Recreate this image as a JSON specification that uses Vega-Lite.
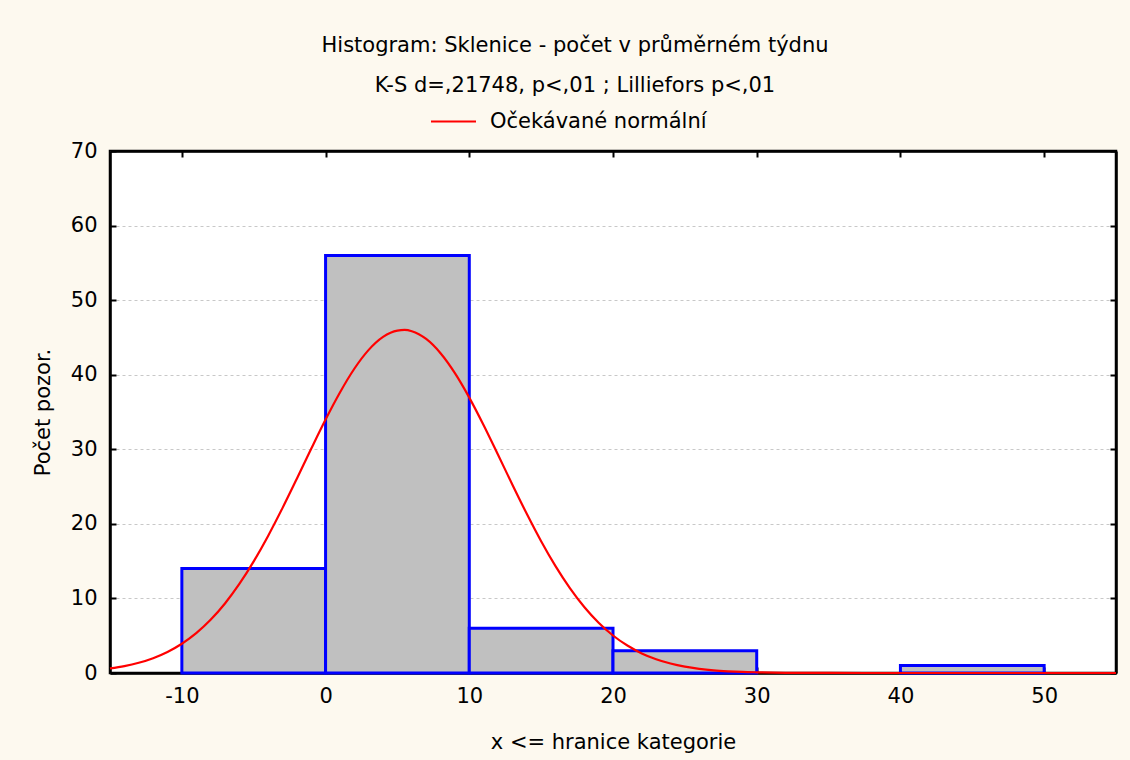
{
  "$schema": "https://vega.github.io/schema/vega-lite/v6.json",
  "autosize": {"type": "none"},
  "padding": {"left": 110, "top": 151, "right": 14, "bottom": 87},
  "width": 1006,
  "height": 522,
  "background": "#fdf9ef",
  "title": {
    "text": "Histogram: Sklenice - počet v průměrném týdnu",
    "subtitle": "K-S d=,21748, p<,01 ; Lilliefors p<,01",
    "anchor": "middle",
    "dx": -38,
    "offset": 2,
    "font": "DejaVu Sans",
    "fontSize": 21,
    "fontWeight": "normal",
    "color": "black",
    "subtitleFont": "DejaVu Sans",
    "subtitleFontSize": 21,
    "subtitleColor": "black",
    "subtitlePadding": 19
  },
  "config": {
    "view": {"fill": "white", "stroke": "black", "strokeWidth": 2.5},
    "axis": {
      "labelFont": "DejaVu Sans",
      "labelFontSize": 21,
      "labelColor": "black",
      "titleFont": "DejaVu Sans",
      "titleFontSize": 21,
      "titleFontWeight": "normal",
      "titleColor": "black",
      "domainColor": "black",
      "domainWidth": 2.5,
      "tickColor": "black",
      "tickWidth": 2,
      "tickSize": -6
    },
    "legend": {
      "labelFont": "DejaVu Sans",
      "labelFontSize": 21,
      "labelColor": "black",
      "labelLimit": 0
    }
  },
  "datasets": {
    "bars": [
      {"lo": -10, "hi": 0, "count": 14},
      {"lo": 0, "hi": 10, "count": 56},
      {"lo": 10, "hi": 20, "count": 6},
      {"lo": 20, "hi": 30, "count": 3},
      {"lo": 40, "hi": 50, "count": 1}
    ],
    "curve": [
      {"x": -15, "y": 0.61}, {"x": -14, "y": 0.92}, {"x": -13, "y": 1.37}, {"x": -12, "y": 1.99},
      {"x": -11, "y": 2.82}, {"x": -10, "y": 3.92}, {"x": -9, "y": 5.34}, {"x": -8, "y": 7.13},
      {"x": -7, "y": 9.32}, {"x": -6, "y": 11.94}, {"x": -5, "y": 14.97}, {"x": -4, "y": 18.38},
      {"x": -3, "y": 22.11}, {"x": -2, "y": 26.05}, {"x": -1, "y": 30.07}, {"x": 0, "y": 33.99},
      {"x": 1, "y": 37.62}, {"x": 2, "y": 40.8}, {"x": 3, "y": 43.33}, {"x": 4, "y": 45.07},
      {"x": 5, "y": 45.92}, {"x": 5.5, "y": 46.0}, {"x": 6, "y": 45.83}, {"x": 7, "y": 44.79}, {"x": 8, "y": 42.88},
      {"x": 9, "y": 40.21}, {"x": 10, "y": 36.93}, {"x": 11, "y": 33.22}, {"x": 12, "y": 29.26},
      {"x": 13, "y": 25.25}, {"x": 14, "y": 21.35}, {"x": 15, "y": 17.67}, {"x": 16, "y": 14.33},
      {"x": 17, "y": 11.38}, {"x": 18, "y": 8.85}, {"x": 19, "y": 6.74}, {"x": 20, "y": 5.03},
      {"x": 21, "y": 3.68}, {"x": 22, "y": 2.63}, {"x": 23, "y": 1.85}, {"x": 24, "y": 1.27},
      {"x": 25, "y": 0.85}, {"x": 26, "y": 0.56}, {"x": 27, "y": 0.36}, {"x": 28, "y": 0.23},
      {"x": 29, "y": 0.14}, {"x": 30, "y": 0.09}, {"x": 32, "y": 0.03}, {"x": 35, "y": 0.005},
      {"x": 40, "y": 0}, {"x": 55, "y": 0}
    ]
  },
  "resolve": {"axis": {"x": "independent", "y": "independent"}},
  "layer": [
    {
      "data": {"name": "bars"},
      "mark": {"type": "rect", "fill": "#c0c0c0", "stroke": "#0000ff", "strokeWidth": 3},
      "encoding": {
        "x": {
          "field": "lo", "type": "quantitative",
          "scale": {"domain": [-15, 55], "nice": false, "zero": false},
          "axis": {
            "orient": "bottom",
            "values": [-10, 0, 10, 20, 30, 40, 50],
            "labelExpr": "'' + datum.value",
            "grid": false,
            "labelPadding": 18,
            "title": "x <= hranice kategorie",
            "titlePadding": 25
          }
        },
        "x2": {"field": "hi"},
        "y": {
          "field": "count", "type": "quantitative",
          "scale": {"domain": [0, 70], "nice": false},
          "axis": {
            "orient": "left",
            "values": [0, 10, 20, 30, 40, 50, 60, 70],
            "grid": true,
            "gridColor": "#c8c8c8",
            "gridDash": [3, 3],
            "gridWidth": 1,
            "labelPadding": 19,
            "title": "Počet pozor.",
            "titlePadding": 17
          }
        },
        "y2": {"datum": 0}
      }
    },
    {
      "data": {"name": "curve"},
      "mark": {"type": "line", "strokeWidth": 2.2, "interpolate": "monotone"},
      "encoding": {
        "x": {
          "field": "x", "type": "quantitative",
          "axis": {"orient": "top", "values": [-10, 0, 10, 20, 30, 40, 50], "labels": false, "grid": false, "title": null}
        },
        "y": {
          "field": "y", "type": "quantitative",
          "axis": {"orient": "right", "values": [0, 10, 20, 30, 40, 50, 60, 70], "labels": false, "grid": false, "title": null}
        },
        "color": {
          "datum": "Očekávané normální",
          "type": "nominal",
          "scale": {"range": ["#ff0000"]},
          "legend": {
            "title": null,
            "orient": "none",
            "legendX": 320,
            "legendY": -53,
            "symbolType": "stroke",
            "symbolSize": 2025,
            "symbolStrokeWidth": 2,
            "labelOffset": 13
          }
        }
      }
    }
  ]
}
